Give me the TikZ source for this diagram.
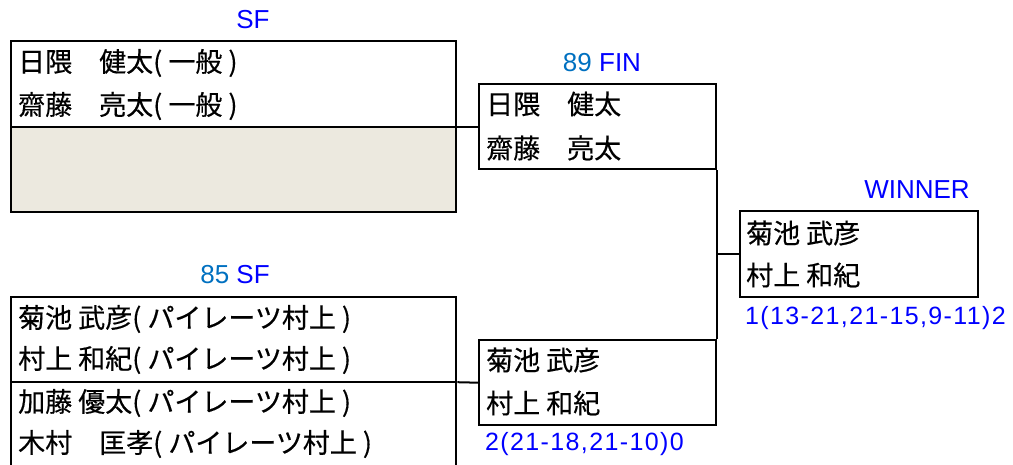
\documentclass[tikz,border=0pt]{standalone}
\usepackage{fontspec}
\setmainfont{Liberation Sans}
\newfontfamily\jpfont[FakeBold=0.4]{Noto Sans CJK JP}
\newfontfamily\scorefont[LetterSpace=5.5]{Liberation Sans}
\definecolor{numblue}{RGB}{0,112,192}
\definecolor{emptybeige}{RGB}{236,233,223}
\begin{document}
\begin{tikzpicture}[x=1pt,y=-1pt,
  box/.style={draw,line width=2.4pt,inner sep=0pt,anchor=north west},
  link/.style={line width=2pt},
  player/.style={anchor=west,inner sep=0pt,font=\jpfont\fontsize{27}{27}\selectfont},
  roundname/.style={inner sep=0pt,text=blue,font=\fontsize{26}{26}\selectfont},
  score/.style={anchor=west,inner sep=0pt,text=blue,font=\scorefont\fontsize{25}{25}\selectfont}]
  \useasboundingbox (0,0) rectangle (1013,464);
  \def\sfwidth{445}
  \def\finwidth{237}

  % semi final, top
  \fill[emptybeige] (10,126) rectangle (455,211);
  \node[box,minimum width=\sfwidth,minimum height=171] (sfa) at (10,40) {};
  \draw[link] (sfa.west) -- (sfa.east);
  \node[roundname] (sfatitle) at (253,20) {SF};
  \node[player] (sfa1) at (18,63) {日隈　健太( 一般 )};
  \node[player] (sfa2) at (18,106) {齋藤　亮太( 一般 )};

  % semi final, bottom
  \node[box,minimum width=\sfwidth,minimum height=170] (sfb) at (10,296) {};
  \draw[link] (sfb.west) -- (sfb.east);
  \node[roundname] (sfbtitle) at (235,275) {{\color{numblue}85} SF};
  \node[player] (sfb1) at (18,319) {菊池 武彦( パイレーツ村上 )};
  \node[player] (sfb2) at (18,360) {村上 和紀( パイレーツ村上 )};
  \node[player] (sfb3) at (18,403) {加藤 優太( パイレーツ村上 )};
  \node[player] (sfb4) at (18,444) {木村　匡孝( パイレーツ村上 )};

  % final
  \node[box,minimum width=\finwidth,minimum height=85] (fina) at (478,83) {};
  \node[roundname] (finatitle) at (602,63) {{\color{numblue}89} FIN};
  \node[player] (fina1) at (486,104) {日隈　健太};
  \node[player] (fina2) at (486,148) {齋藤　亮太};

  \node[box,minimum width=\finwidth,minimum height=85] (finb) at (478,339) {};
  \node[player] (finb1) at (486,360) {菊池 武彦};
  \node[player] (finb2) at (486,403) {村上 和紀};
  \node[score] (finbscore) at (485,444) {2(21-18,21-10)0};

  % winner
  \node[box,minimum width=238,minimum height=86] (win) at (739,210) {};
  \node[roundname] (wintitle) at (917,190) {WINNER};
  \node[player] (win1) at (746,233) {菊池 武彦};
  \node[player] (win2) at (746,275) {村上 和紀};
  \node[score] (winscore) at (745,318) {1(13-21,21-15,9-11)2};

  % bracket lines
  \draw[link] (sfa.east) -- (fina.west);
  \draw[link] (sfb.east) -- (finb.west);
  \draw[link] (fina.south east) -- (finb.north east);
  \draw[link] (win.west) -- (fina.east |- win.west);
\end{tikzpicture}
\end{document}
